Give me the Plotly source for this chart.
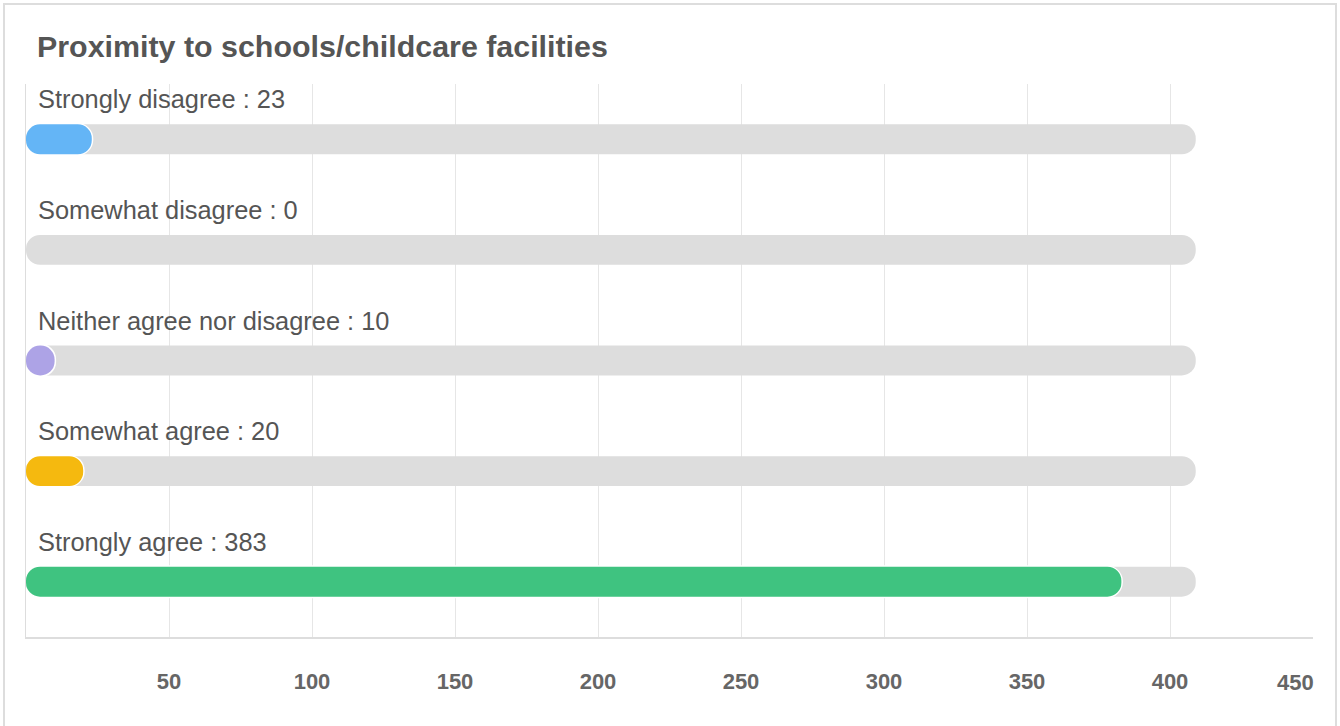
import plotly.graph_objects as go

title_text = "Proximity to schools/childcare facilities"
categories = ["Strongly disagree", "Somewhat disagree", "Neither agree nor disagree",
              "Somewhat agree", "Strongly agree"]
values = [23, 0, 10, 20, 383]
bar_colors = ["#64b5f6", "#9e9e9e", "#ada3e6", "#f5b90f", "#3fc380"]
track_max = 409
tick_values = [50, 100, 150, 200, 250, 300, 350, 400, 450]
tick_labels = ["50", "100", "150", "200", "250", "300", "350", "400", "450"]

W, H = 1340, 726
L, R, T, B = 26, 27, 84, 89
plot_w = W - L - R
plot_h = H - T - B
X_MAX = 450
px_per_unit = plot_w / X_MAX
BAR_W = 0.27
HALO_PX = 1.5

fig = go.Figure()

zeros = [0] * len(categories)

# background track
fig.add_trace(go.Bar(
    y=categories, x=[track_max] * len(categories), base=zeros, orientation="h",
    marker=dict(color="#dddddd", cornerradius="50%", line=dict(width=0)),
    width=BAR_W, hoverinfo="skip", showlegend=False, yaxis="y",
))

# white halo around the coloured bars
halo_extra = HALO_PX / px_per_unit
halo_len = [(v + halo_extra) if v > 0 else 0 for v in values]
fig.add_trace(go.Bar(
    y=categories, x=halo_len, base=zeros, orientation="h",
    marker=dict(color="white", cornerradius="50%", line=dict(width=0)),
    width=BAR_W + 2 * HALO_PX / (plot_h / 5), hoverinfo="skip", showlegend=False, yaxis="y2",
))

# coloured value bars
fig.add_trace(go.Bar(
    y=categories, x=values, base=zeros, orientation="h",
    marker=dict(color=bar_colors, cornerradius="50%", line=dict(width=0)),
    width=BAR_W, showlegend=False, yaxis="y3",
))

for cat, v in zip(categories, values):
    fig.add_annotation(
        x=0, y=cat, xref="x", yref="y", text=f"{cat} : {v}",
        xanchor="left", yanchor="middle", xshift=10, yshift=40,
        showarrow=False, font=dict(size=25.4, color="#555555", family="Liberation Sans, Arial, sans-serif"),
    )

# last tick label kept inside the plot edge
fig.add_annotation(
    x=tick_values[-1], y=0, xref="x", yref="paper", text=f"<b>{tick_labels[-1]}</b>",
    xanchor="right", yanchor="middle", xshift=3, yshift=-45,
    showarrow=False, font=dict(size=22, color="#666666", family="Liberation Sans, Arial, sans-serif"),
)

# card border
fig.add_shape(
    type="rect", xref="paper", yref="paper",
    x0=(4 - L) / plot_w, x1=(1336 - L) / plot_w,
    y0=-(740 - (H - B)) / plot_h, y1=1 + (T - 4) / plot_h,
    line=dict(color="#dddddd", width=2), fillcolor="rgba(0,0,0,0)", layer="below",
)

tick_text = [f"<b>{t}</b>" for t in tick_labels[:-1]] + [""]

yax = dict(
    type="category", categoryorder="array", categoryarray=categories,
    range=[4.5, -0.5], showticklabels=False,
    showgrid=False, zeroline=False, fixedrange=True,
)

fig.update_layout(
    width=W, height=H,
    margin=dict(l=L, r=R, t=T, b=B),
    paper_bgcolor="white", plot_bgcolor="white",
    barmode="overlay",
    font=dict(family="Liberation Sans, Arial, sans-serif", color="#555555"),
    title=dict(
        text=f"<b>{title_text}</b>", xref="container", yref="container",
        x=37 / W, xanchor="left", y=1 - 46 / H, yanchor="middle",
        font=dict(size=30.4, color="#555555"),
    ),
    xaxis=dict(
        range=[0, X_MAX], tickvals=tick_values, ticktext=tick_text,
        showgrid=True, gridcolor="#e6e6e6", gridwidth=1,
        showline=True, linecolor="#dddddd", linewidth=2,
        zeroline=False, ticks="", ticklabelstandoff=24,
        tickfont=dict(size=22, color="#666666"),
        fixedrange=True,
    ),
    yaxis=dict(**yax, showline=True, linecolor="#dddddd", linewidth=1),
    yaxis2=dict(**yax, overlaying="y", visible=False),
    yaxis3=dict(**yax, overlaying="y", visible=False),
)

fig.write_html(
    "out.html",
    config={"displayModeBar": False},
    post_script="document.body.style.margin='0';document.body.style.overflow='hidden';",
)
